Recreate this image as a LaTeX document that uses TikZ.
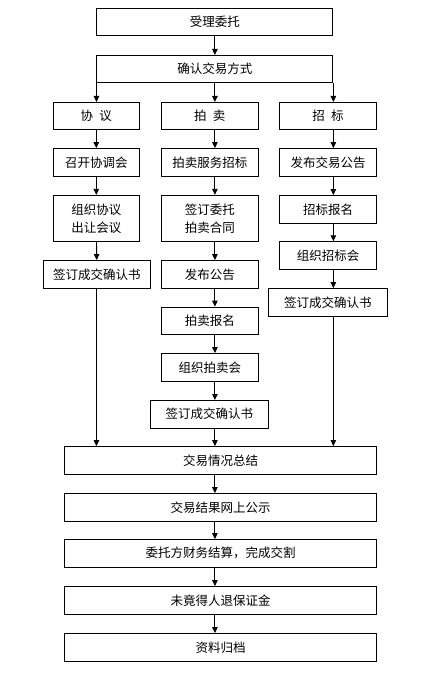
\documentclass[tikz,border=0pt]{standalone}
\usepackage{fontspec}
\setmainfont{Noto Sans CJK SC}
\usetikzlibrary{arrows.meta}
\usetikzlibrary{positioning}

\tikzset{
  box/.style={draw, line width=0.9pt, minimum height=27.5pt, inner sep=1pt,
    font=\fontsize{12.5}{18}\selectfont, align=center},
  flow/.style={-{Triangle[width=5.5pt,length=6pt]}, line width=0.9pt}
}

\begin{document}
\begin{tikzpicture}[x=1pt,y=-1pt]
\useasboundingbox (0,0) rectangle (438,676);
% head
\node[box, minimum width=236pt] (accept) at (214.9,22.2) {受理委托};
\node[box, minimum width=236pt] (confirm) at (214.9,69.2) {确认交易方式};
 \draw[flow] (accept) -- (confirm);
% agreement column
\node[box, minimum width=86pt] (xy1) at (96.3,116.2) {协\hspace{.5em}议};
\node[box, minimum width=86pt] (xy2) at (96.3,162.3) {召开协调会};
\node[box, minimum width=86pt, minimum height=46pt] (xy3) at (96.3,218.3) {组织协议\\出让会议};
\node[box, minimum width=107pt] (xy4) at (96.8,274.3) {签订成交确认书};
 \draw[flow] (confirm.south west) -- (confirm.south west |- xy1.north);
 \draw[flow] (xy1) -- (xy2);
 \draw[flow] (xy2) -- (xy3);
 \draw[flow] (xy3) -- (xy4);
% auction column
\node[box, minimum width=97pt] (pm1) at (209.8,116.2) {拍\hspace{.5em}卖};
\node[box, minimum width=97pt] (pm2) at (209.8,162.3) {拍卖服务招标};
\node[box, minimum width=97pt, minimum height=46pt] (pm3) at (209.8,218.3) {签订委托\\拍卖合同};
\node[box, minimum width=97pt] (pm4) at (209.8,274.3) {发布公告};
\node[box, minimum width=97pt] (pm5) at (209.8,320.8) {拍卖报名};
\node[box, minimum width=97pt] (pm6) at (209.8,367.3) {组织拍卖会};
\node[box, minimum width=118pt] (pm7) at (209.3,414.2) {签订成交确认书};
 \draw[flow] (confirm.south) -- (confirm.south |- pm1.north);
 \foreach \a/\b in {pm1/pm2, pm2/pm3, pm3/pm4, pm4/pm5, pm5/pm6, pm6/pm7}
  \draw[flow] (confirm.south |- \a.south) -- (confirm.south |- \b.north);
% tender column
\node[box, minimum width=97pt] (zb1) at (328,116.2) {招\hspace{.5em}标};
\node[box, minimum width=97pt] (zb2) at (328,162.3) {发布交易公告};
\node[box, minimum width=97pt] (zb3) at (328,209.3) {招标报名};
\node[box, minimum width=97pt] (zb4) at (328,255.5) {组织招标会};
\node[box, minimum width=119pt] (zb5) at (327.8,302.3) {签订成交确认书};
 \draw[flow] (confirm.south east) -- (confirm.south east |- zb1.north);
 \foreach \a/\b in {zb1/zb2, zb2/zb3, zb3/zb4, zb4/zb5}
  \draw[flow] (confirm.south east |- \a.south) -- (confirm.south east |- \b.north);
% tail
\node[box, minimum width=312pt] (sum) at (220.5,460.3) {交易情况总结};
\node[box, minimum width=312pt] (publish) at (220.5,507.3) {交易结果网上公示};
\node[box, minimum width=312pt] (settle) at (220.5,553.3) {委托方财务结算，完成交割};
\node[box, minimum width=312pt] (refund) at (220.5,600.3) {未竟得人退保证金};
\node[box, minimum width=312pt] (archive) at (220.5,647.3) {资料归档};
 \draw[flow] (confirm.south west |- xy4.south) -- (confirm.south west |- sum.north);
 \draw[flow] (confirm.south |- pm7.south) -- (confirm.south |- sum.north);
 \draw[flow] (confirm.south east |- zb5.south) -- (confirm.south east |- sum.north);
 \draw[flow] (sum.south -| confirm.south) -- (confirm.south |- publish.north);
 \draw[flow] (publish.south -| confirm.south) -- (confirm.south |- settle.north);
 \draw[flow] (settle.south -| confirm.south) -- (confirm.south |- refund.north);
 \draw[flow] (refund.south -| confirm.south) -- (confirm.south |- archive.north);
\end{tikzpicture}
\end{document}
